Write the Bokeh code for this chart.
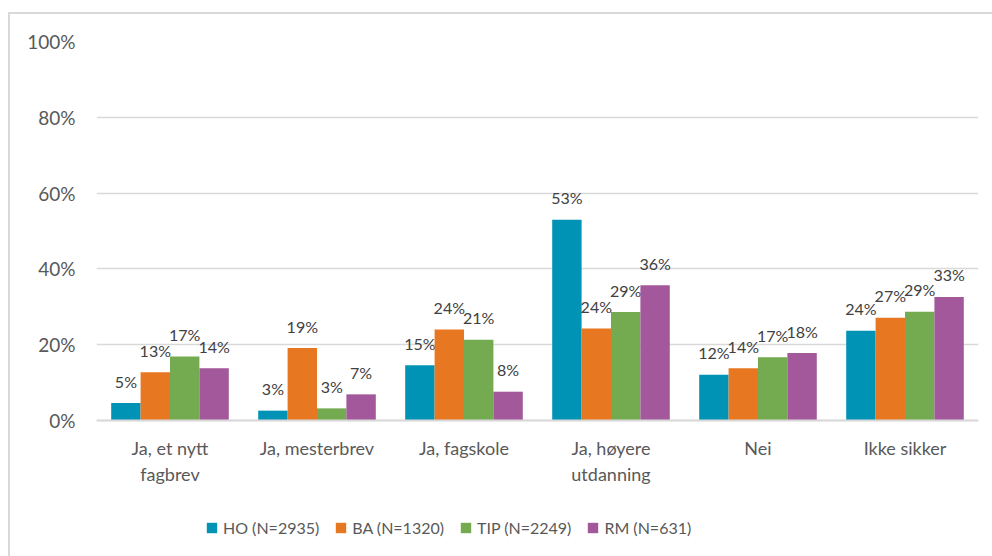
from bokeh.plotting import figure
from bokeh.models import ColumnDataSource, Range1d, FactorRange, Legend, LegendItem, FixedTicker, CustomJSTickFormatter, Span
from bokeh.transform import dodge
from bokeh.core.properties import value
from bokeh.embed import file_html
from bokeh.resources import INLINE

categories = ["Ja, et nytt\nfagbrev", "Ja, mesterbrev", "Ja, fagskole", "Ja, høyere\nutdanning", "Nei", "Ikke sikker"]
series_names = ["HO (N=2935)", "BA (N=1320)", "TIP (N=2249)", "RM (N=631)"]
ho = [4.6, 2.6, 14.6, 53.0, 12.1, 23.7]
ba = [12.7, 19.1, 24.0, 24.3, 13.8, 27.1]
tip = [16.9, 3.2, 21.3, 28.6, 16.7, 28.7]
rm = [13.8, 6.9, 7.6, 35.7, 17.8, 32.6]
y_ticks = [0, 20, 40, 60, 80, 100]

colors = ["#0093B5", "#E87722", "#74AA50", "#A2589A"]
FONT = "Lato"

# frame: 100% .. 0% spans 379 px; frame extends 128 px further down to host the legend
PX_PER_UNIT = 379 / 100
EXTRA_PX = 128
y_min = -EXTRA_PX / PX_PER_UNIT

p = figure(x_range=FactorRange(*categories), y_range=Range1d(y_min, 100),
           frame_width=882, frame_height=379 + EXTRA_PX, output_backend="svg", toolbar_location=None,
           min_border_left=86, min_border_right=14, min_border_top=27, min_border_bottom=8,
           styles={"margin-top": "12px", "margin-left": "8px",
                   "border-top": "2px solid #D9D9D9", "border-left": "2px solid #D9D9D9"})
p.outline_line_color = None
p.background_fill_color = "white"
p.border_fill_color = "white"

series = [ho, ba, tip, rm]
offsets = [-0.3, -0.1, 0.1, 0.3]
items = []
for name, vals, col, off in zip(series_names, series, colors, offsets):
    src = ColumnDataSource(dict(cat=categories, v=vals, lab=[f"{round(v)}%" for v in vals]))
    r = p.vbar(x=dodge("cat", off, range=p.x_range), top="v", bottom=0, width=0.2, source=src,
               fill_color=col, line_color=None)
    p.text(x=dodge("cat", off, range=p.x_range), y="v", text="lab", source=src,
           text_font=value(FONT), text_font_size="16px", text_color="#404040",
           text_align="center", text_baseline="middle", y_offset=-22)
    items.append(LegendItem(label=name, renderers=[r]))

p.add_layout(Span(location=0, dimension="width", line_color="#D9D9D9", line_width=2))

legend = Legend(items=items, orientation="horizontal", location=(109, 11),
                glyph_width=13, glyph_height=13, label_standoff=5, spacing=15,
                padding=0, margin=0, border_line_color=None, background_fill_alpha=0,
                label_text_font=FONT, label_text_font_size="16px", label_text_color="#595959",
                label_height=20)
p.add_layout(legend, "center")

p.yaxis.ticker = FixedTicker(ticks=y_ticks)
p.yaxis.formatter = CustomJSTickFormatter(code="return tick + '%';")
p.yaxis.axis_line_color = None
p.yaxis.major_tick_line_color = None
p.yaxis.minor_tick_line_color = None
p.yaxis.major_label_text_font = FONT
p.yaxis.major_label_text_font_size = "19px"
p.yaxis.major_label_text_color = "#595959"
p.yaxis.major_label_standoff = 15

p.xaxis.axis_line_color = None
p.xaxis.major_tick_line_color = None
p.xaxis.minor_tick_line_color = None
p.xaxis.major_label_text_font = FONT
p.xaxis.major_label_text_font_size = "18px"
p.xaxis.major_label_text_color = "#595959"
p.xaxis.major_label_standoff = 10 - EXTRA_PX
p.xaxis.group_text_font_size = "0px"

p.xgrid.grid_line_color = None
p.ygrid.grid_line_color = "#D9D9D9"
p.ygrid.grid_line_width = 1.5
p.ygrid.ticker = FixedTicker(ticks=y_ticks)

p.x_range.range_padding = 0
p.x_range.group_padding = 0
p.x_range.factor_padding = 0

open("out.html", "w").write(file_html(p, INLINE))
